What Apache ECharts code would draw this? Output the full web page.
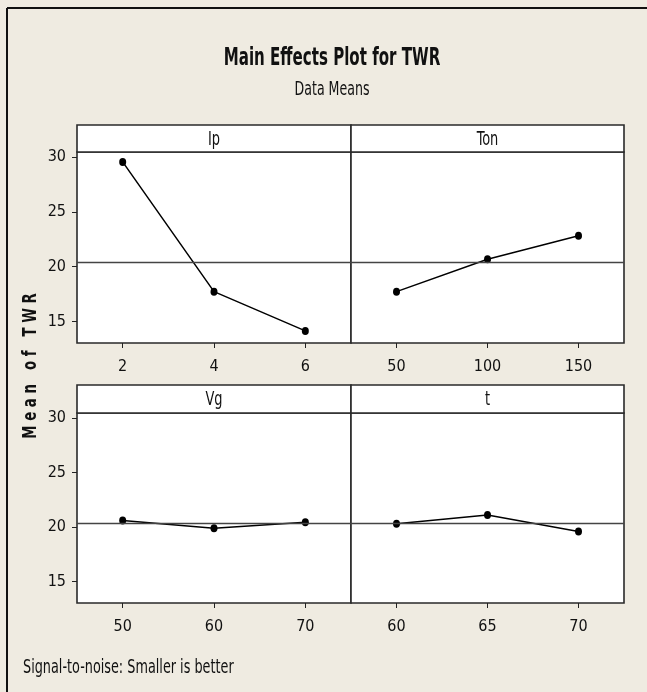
<!DOCTYPE html>
<html>
<head>
<meta charset="utf-8">
<script src="https://cdn.jsdelivr.net/npm/echarts@6/dist/echarts.min.js"></script>
<style>
html,body{margin:0;padding:0;background:#EFEBE1;}
#main{width:647px;height:692px;}
</style>
</head>
<body>
<div id="main"></div>
<script>
// ---- data ----
var factorNames = ['Ip', 'Ton', 'Vg', 't'];
var ipLevels = [2, 4, 6];
var ipMeans = [29.55, 17.73, 14.15];
var tonLevels = [50, 100, 150];
var tonMeans = [17.73, 20.68, 22.82];
var vgLevels = [50, 60, 70];
var vgMeans = [20.61, 19.9, 20.45];
var tLevels = [60, 65, 70];
var tMeans = [20.31, 21.1, 19.6];
var grandMean = 20.39;
var yTicks = [15, 20, 25, 30];

var FONT = "'DejaVu Sans Condensed','Liberation Sans Narrow','Liberation Sans',sans-serif";

var levels = [ipLevels, tonLevels, vgLevels, tLevels];
var means = [ipMeans, tonMeans, vgMeans, tMeans];
var xRanges = [[1, 7], [25, 175], [45, 75], [57.5, 72.5]];

var grids = [
  {left: 77, top: 152, width: 274, height: 191},
  {left: 351, top: 152, width: 273, height: 191},
  {left: 77, top: 413, width: 274, height: 190},
  {left: 351, top: 413, width: 273, height: 190}
];
var headers = [
  {x: 77, y: 125, w: 274, h: 27},
  {x: 351, y: 125, w: 273, h: 27},
  {x: 77, y: 385, w: 274, h: 28},
  {x: 351, y: 385, w: 273, h: 28}
];

var chart = echarts.init(document.getElementById('main'), null, {renderer: 'canvas'});

var gridOpts = [], xAxes = [], yAxes = [], series = [], graphics = [];
for (var i = 0; i < 4; i++) {
  var g = grids[i];
  gridOpts.push({left: g.left, top: g.top, width: g.width, height: g.height,
    show: true, backgroundColor: '#ffffff', borderColor: '#2a2a2a', borderWidth: 1.6, containLabel: false});
  xAxes.push({type: 'value', gridIndex: i, min: xRanges[i][0], max: xRanges[i][1],
    splitLine: {show: false}, axisLine: {show: false},
    axisTick: {show: true, customValues: levels[i], length: 5, inside: false, lineStyle: {color: '#222', width: 1}},
    axisLabel: {show: true, customValues: levels[i], margin: 16, color: '#111', fontSize: 16, fontFamily: FONT}
  });
  var isLeft = (i % 2 === 0);
  yAxes.push({type: 'value', gridIndex: i, min: 13.05, max: 30.45,
    splitLine: {show: false}, axisLine: {show: false},
    axisTick: {show: isLeft, customValues: yTicks, length: 5, lineStyle: {color: '#222', width: 1}},
    axisLabel: {show: isLeft, customValues: yTicks, margin: 11, color: '#111', fontSize: 16, fontFamily: FONT}
  });
  var pts = [];
  for (var k = 0; k < levels[i].length; k++) pts.push([levels[i][k], means[i][k]]);
  series.push({type: 'line', xAxisIndex: i, yAxisIndex: i, data: pts,
    symbol: 'circle', symbolSize: [7, 8], itemStyle: {color: '#000'},
    lineStyle: {color: '#000', width: 1.5}, animation: false, silent: true,
    markLine: {silent: true, symbol: 'none', label: {show: false},
      lineStyle: {color: '#444', width: 1.3, type: 'solid'},
      data: [{yAxis: grandMean}]}
  });
  var h = headers[i];
  graphics.push({type: 'rect', shape: {x: h.x, y: h.y, width: h.w, height: h.h},
    style: {fill: '#ffffff', stroke: '#2a2a2a', lineWidth: 1.6}, z: 10});
  graphics.push({type: 'text', x: h.x + h.w / 2, y: h.y + h.h / 2 + 1, z: 11, scaleX: 0.72,
    style: {text: factorNames[i], align: 'center', verticalAlign: 'middle',
      font: '20px ' + FONT, fill: '#111'}});
}

graphics.push({type: 'line', shape: {x1: 7, y1: 8, x2: 647, y2: 8}, style: {stroke: '#111', lineWidth: 2}});
graphics.push({type: 'line', shape: {x1: 7, y1: 8, x2: 7, y2: 692}, style: {stroke: '#111', lineWidth: 2}});
graphics.push({type: 'text', x: 31, y: 366, rotation: Math.PI / 2, scaleX: 0.78,
  style: {text: 'M e a n   o f   T W R', align: 'center', verticalAlign: 'middle',
    font: 'bold 19px ' + FONT, fill: '#111'}});
graphics.push({type: 'text', x: 23, y: 668, scaleX: 0.75,
  style: {text: 'Signal-to-noise: Smaller is better', align: 'left', verticalAlign: 'middle',
    font: '19px ' + FONT, fill: '#111'}});
graphics.push({type: 'text', x: 332, y: 58, scaleX: 0.67,
  style: {text: 'Main Effects Plot for TWR', align: 'center', verticalAlign: 'middle',
    font: 'bold 25px ' + FONT, fill: '#111'}});
graphics.push({type: 'text', x: 332, y: 90, scaleX: 0.7,
  style: {text: 'Data Means', align: 'center', verticalAlign: 'middle',
    font: '20px ' + FONT, fill: '#111'}});

chart.setOption({
  backgroundColor: '#EFEBE1',
  animation: false,
  grid: gridOpts,
  xAxis: xAxes,
  yAxis: yAxes,
  series: series,
  graphic: graphics
});
</script>
</body>
</html>
